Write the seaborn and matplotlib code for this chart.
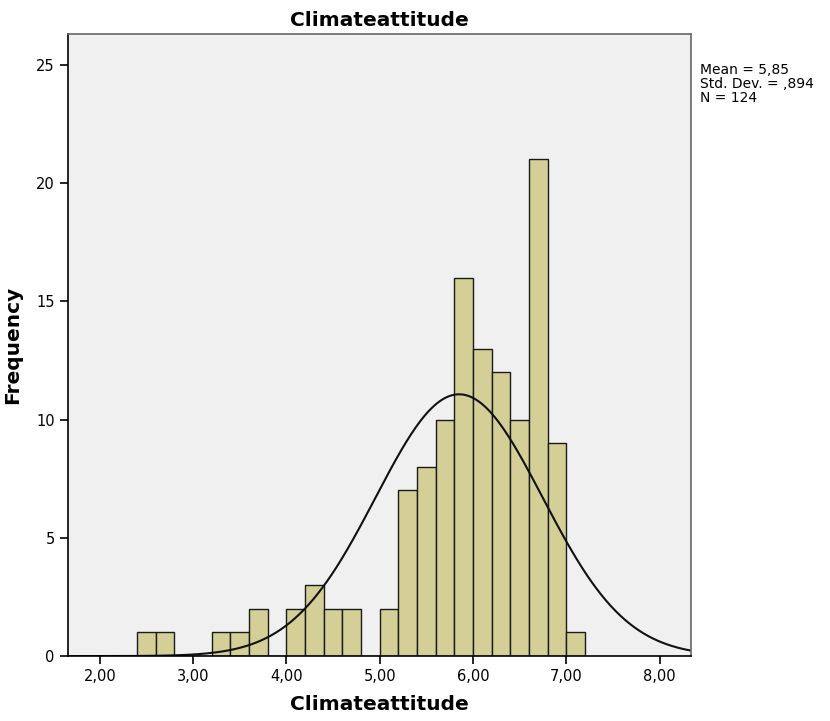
import matplotlib
matplotlib.use('Agg')
import matplotlib.pyplot as plt
import seaborn as sns
import pandas as pd
import numpy as np

bordes = [2.4, 2.6, 2.8, 3.0, 3.2, 3.4, 3.6, 3.8, 4.0, 4.2, 4.4, 4.6, 4.8,
          5.0, 5.2, 5.4, 5.6, 5.8, 6.0, 6.2, 6.4, 6.6, 6.8, 7.0, 7.2]
frecuencias = [1, 1, 0, 0, 1, 1, 2, 0, 2, 3, 2, 2, 0, 2, 7, 8, 10, 16, 13, 12, 10, 21, 9, 1]
media = 5.85
desv = 0.894
n = 124
ticks_x = [2, 3, 4, 5, 6, 7, 8]
ticks_y = [0, 5, 10, 15, 20, 25]

centros = [(a + b) / 2 for a, b in zip(bordes[:-1], bordes[1:])]
datos = pd.DataFrame({'centro': centros, 'frecuencia': frecuencias})

sns.set_style('white')
plt.rcParams['font.family'] = ['DejaVu Sans']
plt.rcParams['text.color'] = 'black'
plt.rcParams['axes.labelcolor'] = 'black'
plt.rcParams['xtick.color'] = 'black'
plt.rcParams['ytick.color'] = 'black'

fig = plt.figure(figsize=(8.3, 7.21), dpi=100)
ax = fig.add_axes([0.082, 0.090, 0.750, 0.863])
ax.set_facecolor('#f0f0f0')

sns.histplot(data=datos, x='centro', weights='frecuencia', bins=bordes, ax=ax,
             color='#d3cf97', edgecolor='#1a1a1a', linewidth=1.0, alpha=1.0)

# Curva normal escalada
xs = np.linspace(1.66, 8.33, 400)
ys = n * 0.2 * np.exp(-0.5 * ((xs - media) / desv) ** 2) / (desv * np.sqrt(2 * np.pi))
ax.plot(xs, ys, color='#111111', linewidth=1.5)

ax.set_xlim(1.66, 8.33)
ax.set_ylim(0, 26.3)
ax.set_xticks(ticks_x)
ax.set_xticklabels([f'{t:.2f}'.replace('.', ',') for t in ticks_x], fontsize=10.5)
ax.set_yticks(ticks_y)
ax.set_yticklabels([str(t) for t in ticks_y], fontsize=10.5)
ax.tick_params(axis='both', direction='out', length=6, width=1.2, color='black',
               labelcolor='black', bottom=True, left=True)

for lado in ['left', 'bottom']:
    ax.spines[lado].set_color('black')
    ax.spines[lado].set_linewidth(1.2)
for lado in ['top', 'right']:
    ax.spines[lado].set_color('#666666')
    ax.spines[lado].set_linewidth(1.2)

ax.set_title('Climateattitude', fontsize=14.5, fontweight='bold', color='black',
             family='DejaVu Sans Condensed', pad=6)
ax.set_xlabel('Climateattitude', fontsize=14.5, fontweight='bold', color='black',
              family='DejaVu Sans Condensed', labelpad=8)
ax.set_ylabel('Frequency', fontsize=14.5, fontweight='bold', color='black',
              family='DejaVu Sans Condensed', labelpad=10)

texto = f'Mean = {media:.2f}'.replace('.', ',') + '\n' + \
        'Std. Dev. = ' + f'{desv:.3f}'.replace('0.', ',') + '\n' + f'N = {n}'
fig.text(0.843, 0.913, texto, fontsize=10, family='DejaVu Sans Condensed',
         color='black', va='top', ha='left', linespacing=1.0)

plt.savefig('out.png', dpi=100)
